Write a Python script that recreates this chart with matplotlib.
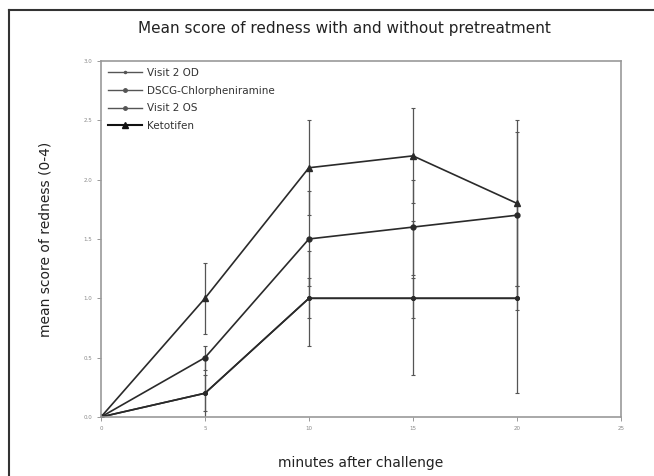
import matplotlib.pyplot as plt
from matplotlib.lines import Line2D

minutes = [0, 5, 10, 15, 20]

visit2_od = [0.0, 0.5, 1.5, 1.6, 1.7]
visit2_od_sd = [0.0, 0.1, 0.4, 0.4, 0.7]

dscg = [0.0, 0.2, 1.0, 1.0, 1.0]
dscg_sd = [0.0, 0.3, 0.4, 0.65, 0.8]

visit2_os = [0.0, 0.2, 1.0, 1.0, 1.0]
visit2_os_sd = [0.0, 0.15, 0.17, 0.17, 0.1]

ketotifen = [0.0, 1.0, 2.1, 2.2, 1.8]
ketotifen_sd = [0.0, 0.3, 0.4, 0.4, 0.7]

x_ticks = [0, 5, 10, 15, 20, 25]
y_ticks = [0.0, 0.5, 1.0, 1.5, 2.0, 2.5, 3.0]

fig = plt.figure(figsize=(6.54, 4.76), dpi=100)
ax = fig.add_axes([0.1544, 0.124, 0.795, 0.748])

series = [
    ("Visit 2 OD", visit2_od, visit2_od_sd, "o", 3.5),
    ("DSCG-Chlorpheniramine", dscg, dscg_sd, "o", 2.5),
    ("Visit 2 OS", visit2_os, visit2_os_sd, "o", 2.5),
    ("Ketotifen", ketotifen, ketotifen_sd, "^", 4.5),
]

for name, vals, sd, marker, ms in series:
    ax.errorbar(
        minutes, vals, yerr=sd, color="#2a2a2a", lw=1.2, marker=marker,
        markersize=ms, elinewidth=0.9, capsize=1.5, capthick=0.8,
        ecolor="#555555", label=name,
    )

ax.set_xlim(0, 25)
ax.set_ylim(0, 3.0)
ax.set_xticks(x_ticks)
ax.set_yticks(y_ticks)
ax.set_xticklabels([str(t) for t in x_ticks])
ax.set_yticklabels([f"{t:.1f}" for t in y_ticks])
ax.tick_params(labelsize=4, colors="#888888", length=3, width=0.6)
for sp in ax.spines.values():
    sp.set_color("#999999")
    sp.set_linewidth(1.2)

handles = [
    Line2D([], [], color="#555555", lw=1.0, marker="o", markersize=1.5),
    Line2D([], [], color="#555555", lw=1.0, marker="o", markersize=2.5),
    Line2D([], [], color="#555555", lw=1.0, marker="o", markersize=2.5),
    Line2D([], [], color="#111111", lw=1.5, marker="^", markersize=5),
]
ax.legend(handles, [s[0] for s in series], loc="upper left", frameon=False,
          fontsize=7.5, handlelength=3.3, labelspacing=0.75, borderaxespad=0.25,
          handletextpad=0.5, labelcolor="#333333")

ax.set_xlabel("minutes after challenge", fontsize=10, color="#222222", labelpad=18)
ax.set_ylabel("mean score of redness (0-4)", fontsize=10, color="#222222", labelpad=22)
fig.text(0.527, 0.94, "Mean score of redness with and without pretreatment",
         ha="center", va="center", fontsize=11, color="#222222")

# outer frame (only top and left edges are visible)
fig.add_artist(Line2D([9 / 654, 1], [1 - 10 / 476, 1 - 10 / 476],
                      transform=fig.transFigure, color="#333333", lw=1.5))
fig.add_artist(Line2D([9 / 654, 9 / 654], [0, 1 - 10 / 476],
                      transform=fig.transFigure, color="#333333", lw=1.5))

fig.savefig("out.png", dpi=100)
